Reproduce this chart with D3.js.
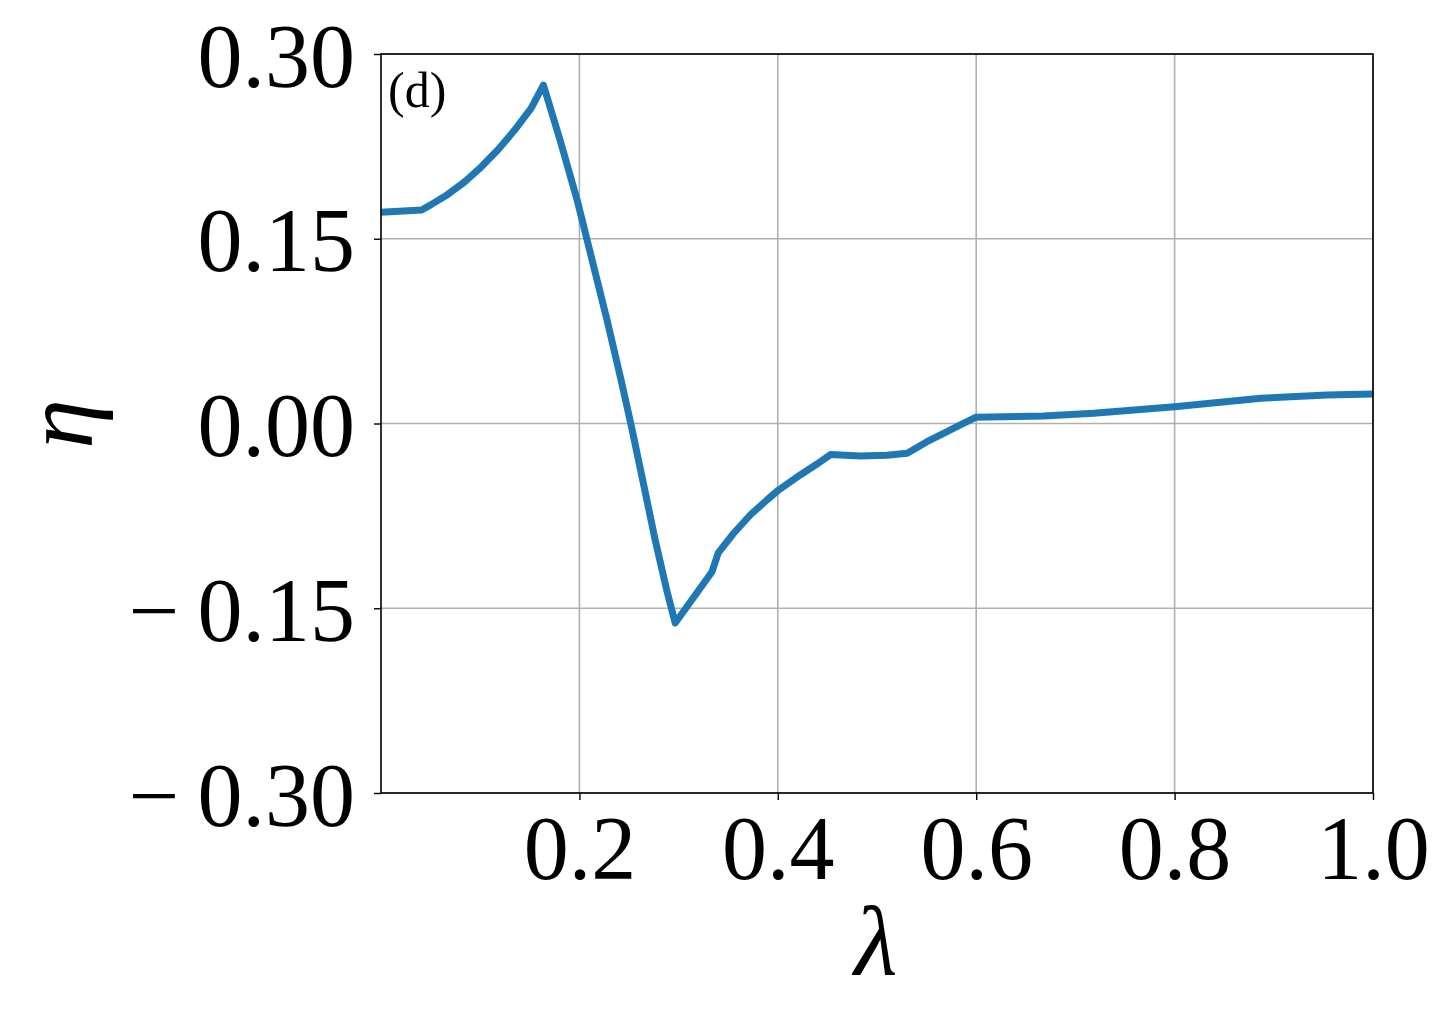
<!DOCTYPE html>
<html>
<head>
<meta charset="utf-8">
<script src="https://cdn.jsdelivr.net/npm/d3@7"></script>
<style>
  body { margin: 0; background: #fff; }
  svg { display: block; }
  .tick text { font-family: "Liberation Serif", serif; }
</style>
</head>
<body>
<div id="chart"></div>
<script>
// data
var lambdaVals = [0.0, 0.0410, 0.0505, 0.0673, 0.0840, 0.1009, 0.1177, 0.1345, 0.1514, 0.1637,
                  0.1805, 0.1977, 0.2128, 0.2279, 0.2420, 0.2519, 0.2638, 0.2764, 0.2880, 0.2966,
                  0.3337, 0.3400, 0.3553, 0.3722, 0.3890, 0.4007, 0.4226, 0.4395, 0.4531,
                  0.4833, 0.5100, 0.5305, 0.5504, 0.5671, 0.5840, 0.5994,
                  0.6680, 0.7184, 0.8000, 0.8870, 0.9538, 1.0];
var etaVals = [0.1716, 0.1733, 0.1777, 0.1860, 0.1960, 0.2082, 0.2220, 0.2380, 0.2560, 0.2748,
               0.2302, 0.1815, 0.1327, 0.0840, 0.0353, -0.0004, -0.0459, -0.0946, -0.1352, -0.1620,
               -0.1203, -0.1050, -0.0893, -0.0743, -0.0621, -0.0540, -0.0418, -0.0329, -0.0252,
               -0.0264, -0.0258, -0.0242, -0.0148, -0.0080, -0.0012, 0.0050,
               0.0061, 0.0083, 0.0136, 0.0205, 0.0231, 0.0240];
var xTicks = [0.2, 0.4, 0.6, 0.8, 1.0];
var yTicks = [-0.30, -0.15, 0.00, 0.15, 0.30];

var W = 1452, H = 1021;
var margin = {top: 54, left: 381, right: 79, bottom: 228};
var width = W - margin.left - margin.right,
    height = H - margin.top - margin.bottom;

var svg = d3.select("#chart").append("svg")
  .attr("width", W).attr("height", H);

var g = svg.append("g").attr("transform", "translate(" + margin.left + "," + margin.top + ")");

var x = d3.scaleLinear().domain([0, 1.0]).range([0, width]);
var y = d3.scaleLinear().domain([-0.30, 0.30]).range([height, 0]);

// grid
g.append("g").selectAll("line").data(xTicks).enter().append("line")
  .attr("x1", function(d){ return x(d); }).attr("x2", function(d){ return x(d); })
  .attr("y1", 0).attr("y2", height)
  .style("stroke", "#b0b0b0").style("stroke-width", 1.6);
g.append("g").selectAll("line").data(yTicks).enter().append("line")
  .attr("x1", 0).attr("x2", width)
  .attr("y1", function(d){ return y(d); }).attr("y2", function(d){ return y(d); })
  .style("stroke", "#b0b0b0").style("stroke-width", 1.6);

// curve
var pts = lambdaVals.map(function(l, i){ return [l, etaVals[i]]; });
var line = d3.line()
  .x(function(d){ return x(d[0]); })
  .y(function(d){ return y(d[1]); });
g.append("path").datum(pts)
  .attr("d", line)
  .style("fill", "none")
  .style("stroke", "#1f77b4")
  .style("stroke-width", 7)
  .style("stroke-linejoin", "round")
  .style("stroke-linecap", "butt");

// axes
var fmtY = function(d){ return (d < 0 ? "\u2212\u2009" : "") + Math.abs(d).toFixed(2); };
var xAxis = g.append("g").attr("transform", "translate(0," + height + ")")
  .call(d3.axisBottom(x).tickValues(xTicks).tickFormat(d3.format(".1f")).tickSize(7).tickSizeOuter(0));
var yAxis = g.append("g")
  .call(d3.axisLeft(y).tickValues(yTicks).tickFormat(fmtY).tickSize(7).tickSizeOuter(0));
[xAxis, yAxis].forEach(function(a){
  a.select(".domain").remove();
  a.selectAll(".tick line").style("stroke", "#000").style("stroke-width", 1.4);
  a.selectAll(".tick text").style("font-size", "90px").style("fill", "#000");
});
xAxis.selectAll(".tick text").attr("dy", null).attr("y", 86);
yAxis.selectAll(".tick text").attr("dy", null).attr("y", 32).attr("x", -26);

// frame
g.append("rect").attr("width", width).attr("height", height)
  .style("fill", "none").style("stroke", "#000").style("stroke-width", 1.6);

// labels
svg.append("text").attr("x", 876).attr("y", 975)
  .attr("text-anchor", "middle")
  .style("font-family", "Liberation Serif, serif").style("font-style", "italic")
  .style("font-size", "100px").text("λ");
svg.append("text")
  .attr("transform", "translate(92,424) rotate(-90)")
  .attr("text-anchor", "middle")
  .style("font-family", "Liberation Serif, serif").style("font-style", "italic")
  .style("font-size", "100px").text("η");
svg.append("text").attr("x", 388).attr("y", 107)
  .style("font-family", "Liberation Serif, serif")
  .style("font-size", "50px").text("(d)");
</script>
</body>
</html>
